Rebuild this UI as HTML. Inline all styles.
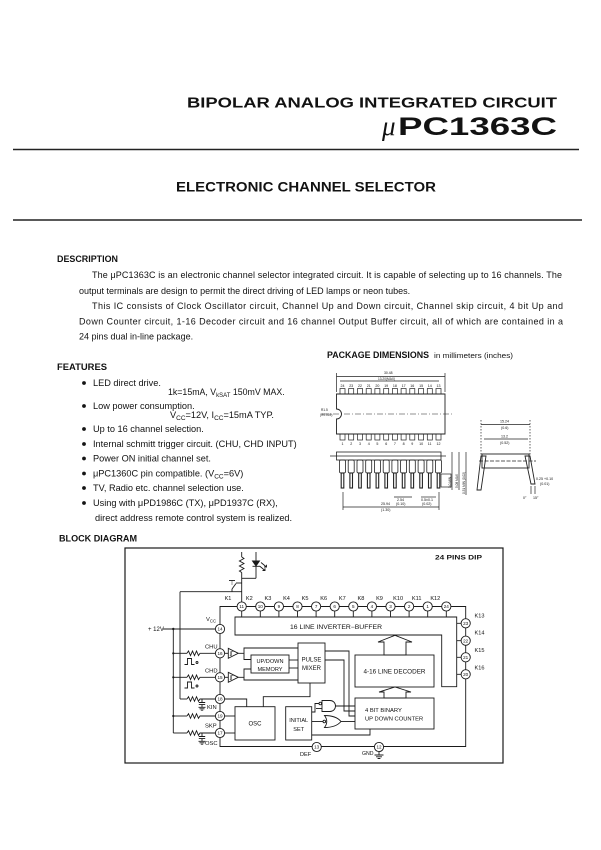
<!DOCTYPE html>
<html><head><meta charset="utf-8">
<style>
html,body{margin:0;padding:0;background:#fff;}
svg{display:block;}
text{font-family:"Liberation Sans",Arial,sans-serif;fill:#121212;}
.s{font-family:"Liberation Serif",serif;font-style:italic;}
</style></head><body>
<svg width="601" height="850" viewBox="0 0 601 850" xmlns="http://www.w3.org/2000/svg">
<rect width="601" height="850" fill="#fff"/>

<!-- HEADER -->
<text x="187" y="107.5" font-size="15" font-weight="bold" textLength="370" lengthAdjust="spacingAndGlyphs">BIPOLAR ANALOG INTEGRATED CIRCUIT</text>
<text x="382" y="135" font-size="27" class="s">μ</text>
<text x="398" y="135" font-size="25" font-weight="bold" textLength="159" lengthAdjust="spacingAndGlyphs">PC1363C</text>
<line x1="13" y1="149.5" x2="579" y2="149.5" stroke="#222" stroke-width="1.4"/>
<text x="176" y="191.5" font-size="13.5" font-weight="bold" textLength="260" lengthAdjust="spacingAndGlyphs">ELECTRONIC CHANNEL SELECTOR</text>
<line x1="13" y1="220" x2="582" y2="220" stroke="#222" stroke-width="1.4"/>

<!-- DESCRIPTION -->
<text x="57" y="262" font-size="9" font-weight="bold" textLength="61" lengthAdjust="spacingAndGlyphs">DESCRIPTION</text>
<g font-size="9">
<text x="92" y="278" textLength="470" lengthAdjust="spacing">The μPC1363C is an electronic channel selector integrated circuit. It is capable of selecting up to 16 channels. The</text>
<text x="79" y="294">output terminals are design to permit the direct driving of LED lamps or neon tubes.</text>
<text x="92" y="309" textLength="471" lengthAdjust="spacing">This IC consists of Clock Oscillator circuit, Channel Up and Down circuit, Channel skip circuit, 4 bit Up and</text>
<text x="79" y="324.5" textLength="484" lengthAdjust="spacing">Down Counter circuit, 1-16 Decoder circuit and 16 channel Output Buffer circuit, all of which are contained in a</text>
<text x="79" y="339.5">24 pins dual in-line package.</text>
</g>

<!-- FEATURES -->
<text x="57" y="370" font-size="9.2" font-weight="bold" textLength="50" lengthAdjust="spacingAndGlyphs">FEATURES</text>
<g fill="#151515">
<circle cx="84" cy="383" r="1.9"/>
<circle cx="84" cy="406" r="1.9"/>
<circle cx="84" cy="429" r="1.9"/>
<circle cx="84" cy="444" r="1.9"/>
<circle cx="84" cy="458.5" r="1.9"/>
<circle cx="84" cy="473.5" r="1.9"/>
<circle cx="84" cy="488" r="1.9"/>
<circle cx="84" cy="503" r="1.9"/>
</g>
<g font-size="9.2">
<text x="93" y="386">LED direct drive.</text>
<text x="168" y="395" font-size="8.8">1k=15mA, V<tspan font-size="6" dy="2">kSAT</tspan><tspan dy="-2"> 150mV MAX.</tspan></text>
<text x="93" y="409">Low power consumption.</text>
<text x="170" y="418">V<tspan font-size="6.5" dy="2">CC</tspan><tspan dy="-2">=12V, I</tspan><tspan font-size="6.5" dy="2">CC</tspan><tspan dy="-2">=15mA TYP.</tspan></text>
<text x="93" y="432">Up to 16 channel selection.</text>
<text x="93" y="447">Internal schmitt trigger circuit. (CHU, CHD INPUT)</text>
<text x="93" y="461.5">Power ON initial channel set.</text>
<text x="93" y="476.5">μPC1360C pin compatible. (V<tspan font-size="6.5" dy="2">CC</tspan><tspan dy="-2">=6V)</tspan></text>
<text x="93" y="491">TV, Radio etc. channel selection use.</text>
<text x="93" y="506">Using with μPD1986C (TX), μPD1937C (RX),</text>
<text x="95" y="521">direct address remote control system is realized.</text>
</g>
<text x="59" y="541.5" font-size="9.2" font-weight="bold" textLength="78" lengthAdjust="spacingAndGlyphs">BLOCK DIAGRAM</text>

<!-- PACKAGE DIMENSIONS -->
<text x="327" y="358" font-size="8.8" font-weight="bold" textLength="102" lengthAdjust="spacingAndGlyphs">PACKAGE DIMENSIONS</text>
<text x="434" y="358" font-size="7.5" textLength="79" lengthAdjust="spacingAndGlyphs">in millimeters (inches)</text>

<g stroke="#222" stroke-width="0.7" fill="none">
  <line x1="336.5" y1="376.5" x2="445" y2="376.5"/>
  <line x1="336.5" y1="373" x2="336.5" y2="392"/>
  <line x1="445" y1="373" x2="445" y2="392"/>
  <line x1="340" y1="381" x2="439" y2="381"/>
  <path d="M336.5,394 H445 V434 H336.5 V419 A5,5 0 0 0 336.5,409 Z" stroke-width="0.9"/>
  <line x1="322" y1="414" x2="452" y2="414" stroke-dasharray="6,2,1,2" stroke-width="0.5"/>
  <g stroke-width="0.7">
  <rect x="340" y="388.5" width="5" height="5.5"/><rect x="348.7" y="388.5" width="5" height="5.5"/>
  <rect x="357.5" y="388.5" width="5" height="5.5"/><rect x="366.2" y="388.5" width="5" height="5.5"/>
  <rect x="374.9" y="388.5" width="5" height="5.5"/><rect x="383.7" y="388.5" width="5" height="5.5"/>
  <rect x="392.4" y="388.5" width="5" height="5.5"/><rect x="401.1" y="388.5" width="5" height="5.5"/>
  <rect x="409.8" y="388.5" width="5" height="5.5"/><rect x="418.6" y="388.5" width="5" height="5.5"/>
  <rect x="427.3" y="388.5" width="5" height="5.5"/><rect x="436" y="388.5" width="5" height="5.5"/>
  <rect x="340" y="434" width="5" height="6"/><rect x="348.7" y="434" width="5" height="6"/>
  <rect x="357.5" y="434" width="5" height="6"/><rect x="366.2" y="434" width="5" height="6"/>
  <rect x="374.9" y="434" width="5" height="6"/><rect x="383.7" y="434" width="5" height="6"/>
  <rect x="392.4" y="434" width="5" height="6"/><rect x="401.1" y="434" width="5" height="6"/>
  <rect x="409.8" y="434" width="5" height="6"/><rect x="418.6" y="434" width="5" height="6"/>
  <rect x="427.3" y="434" width="5" height="6"/><rect x="436" y="434" width="5" height="6"/>
  </g>
  <line x1="330" y1="456" x2="446" y2="456" stroke-width="0.8"/>
  <rect x="336.5" y="452" width="104.5" height="8" stroke-width="0.8"/>
  <g stroke-width="0.8">
  <rect x="339.5" y="460" width="6" height="13" rx="1.5"/><rect x="348.2" y="460" width="6" height="13" rx="1.5"/>
  <rect x="357" y="460" width="6" height="13" rx="1.5"/><rect x="365.7" y="460" width="6" height="13" rx="1.5"/>
  <rect x="374.4" y="460" width="6" height="13" rx="1.5"/><rect x="383.2" y="460" width="6" height="13" rx="1.5"/>
  <rect x="391.9" y="460" width="6" height="13" rx="1.5"/><rect x="400.6" y="460" width="6" height="13" rx="1.5"/>
  <rect x="409.3" y="460" width="6" height="13" rx="1.5"/><rect x="418.1" y="460" width="6" height="13" rx="1.5"/>
  <rect x="426.8" y="460" width="6" height="13" rx="1.5"/><rect x="435.5" y="460" width="6" height="13" rx="1.5"/>
  </g>
  <g stroke-width="1.1">
  <rect x="341.2" y="473" width="2.6" height="15"/><rect x="349.9" y="473" width="2.6" height="15"/>
  <rect x="358.7" y="473" width="2.6" height="15"/><rect x="367.4" y="473" width="2.6" height="15"/>
  <rect x="376.1" y="473" width="2.6" height="15"/><rect x="384.9" y="473" width="2.6" height="15"/>
  <rect x="393.6" y="473" width="2.6" height="15"/><rect x="402.3" y="473" width="2.6" height="15"/>
  <rect x="411" y="473" width="2.6" height="15"/><rect x="419.8" y="473" width="2.6" height="15"/>
  <rect x="428.5" y="473" width="2.6" height="15"/><rect x="437.2" y="473" width="2.6" height="15"/>
  </g>
  <rect x="441" y="474" width="10" height="13"/>
  <line x1="452" y1="452" x2="452" y2="490"/>
  <line x1="459" y1="452" x2="459" y2="490"/>
  <line x1="466" y1="452" x2="466" y2="495"/>
  <line x1="343" y1="507" x2="439" y2="507"/>
  <line x1="343" y1="492" x2="343" y2="510"/>
  <line x1="439" y1="492" x2="439" y2="510"/>
  <line x1="394" y1="497" x2="412" y2="497"/>
  <line x1="421" y1="497" x2="436" y2="497"/>
  <line x1="481" y1="424.5" x2="530" y2="424.5"/>
  <line x1="484" y1="439" x2="528" y2="439"/>
  <line x1="481" y1="420" x2="481" y2="455" stroke-dasharray="1.5,1.5"/>
  <line x1="530" y1="420" x2="530" y2="455" stroke-dasharray="1.5,1.5"/>
  <rect x="482" y="454" width="47" height="14" stroke-width="0.9"/>
  <line x1="479" y1="461" x2="536" y2="461" stroke-dasharray="4,1.5"/>
  <polygon points="481,456 486,456 481,490 477,490" stroke-width="0.9"/>
  <polygon points="525,456 530,456 535,484 531,484" stroke-width="0.9"/>
  <line x1="531" y1="486" x2="531" y2="494"/>
  <line x1="535" y1="486" x2="535" y2="494"/>
</g>
<g font-size="3.6" fill="#333">
  <text x="384" y="374" font-size="3.4">30.48</text>
  <text x="378" y="380" font-size="3.2">13.20(MAX)</text>
  <text x="340.5" y="387">24</text><text x="349.2" y="387">23</text><text x="358" y="387">22</text><text x="366.7" y="387">21</text>
  <text x="375.4" y="387">20</text><text x="384.2" y="387">19</text><text x="392.9" y="387">18</text><text x="401.6" y="387">17</text>
  <text x="410.3" y="387">16</text><text x="419.1" y="387">15</text><text x="427.8" y="387">14</text><text x="436.5" y="387">13</text>
  <text x="341.5" y="445">1</text><text x="350.2" y="445">2</text><text x="359" y="445">3</text><text x="367.7" y="445">4</text>
  <text x="376.4" y="445">5</text><text x="385.2" y="445">6</text><text x="393.9" y="445">7</text><text x="402.6" y="445">8</text>
  <text x="411.3" y="445">9</text><text x="419.1" y="445">10</text><text x="427.8" y="445">11</text><text x="436.5" y="445">12</text>
  <text x="321" y="411" font-size="3.2">R1.5</text>
  <text x="320" y="416" font-size="3.2">(R0.059)</text>
  <text x="381" y="505">25.94</text>
  <text x="381" y="511">(1.30)</text>
  <text x="397" y="501">2.54</text>
  <text x="396" y="505">(0.10)</text>
  <text x="421" y="501">0.5±0.1</text>
  <text x="422" y="505">(0.02)</text>
  <text x="500" y="422.5">15.24</text>
  <text x="501" y="429">(0.6)</text>
  <text x="501" y="437.5">13.2</text>
  <text x="500" y="444">(0.52)</text>
  <text x="536" y="480">0.25 +0.10</text>
  <text x="540" y="485">(0.01)</text>
  <text x="523" y="499">0°</text>
  <text x="533" y="499">15°</text>
  <text transform="translate(451,488) rotate(-90)" font-size="3.2">3.0 MIN</text>
  <text transform="translate(458,488) rotate(-90)" font-size="3.2">5.08 MAX</text>
  <text transform="translate(465,494) rotate(-90)" font-size="3.2">0.51 MIN (0.02)</text>
</g>

<!-- BLOCK DIAGRAM -->
<g stroke="#1a1a1a" stroke-width="0.9" fill="none">
  <rect x="125" y="548" width="378" height="215" stroke-width="1.2"/>
  <line x1="241.7" y1="552" x2="241.7" y2="557"/>
  <polyline points="241.7,557 244,558.5 239.4,561 244,563.5 239.4,566 244,568.5 239.4,571 241.7,572.5"/>
  <line x1="241.7" y1="572.5" x2="241.7" y2="602"/>
  <line x1="256" y1="552" x2="256" y2="578.3"/>
  <polygon points="252.5,561 259.5,561 256,566" fill="#1a1a1a"/>
  <line x1="252.5" y1="566.3" x2="259.5" y2="566.3"/>
  <line x1="259.5" y1="566" x2="265" y2="570.5"/>
  <polyline points="262.5,570.5 265,570.5 265,568.3"/>
  <line x1="261" y1="562.5" x2="266.5" y2="567"/>
  <polyline points="264,567 266.5,567 266.5,564.8"/>
  <line x1="241.7" y1="578.3" x2="256" y2="578.3"/>
  <line x1="180" y1="591.7" x2="241.7" y2="591.7"/>
  <line x1="232" y1="591.7" x2="232" y2="589"/>
  <line x1="232" y1="589" x2="236" y2="583.5"/>
  <line x1="236" y1="583" x2="241.7" y2="583"/>
  <line x1="229" y1="580.5" x2="235" y2="580.5"/>
  <line x1="232" y1="580.5" x2="232" y2="585" stroke-dasharray="1,1"/>
  <polyline points="220,629 220,606.5 465.7,606.5 465.7,746.5 220,746.5 220,629"/>
  <path d="M241.7,611 V617 M260.3,611 V617 M278.9,611 V617 M297.5,611 V617 M316.1,611 V617 M334.7,611 V617 M353.3,611 V617 M371.9,611 V617 M390.5,611 V617 M409.1,611 V617 M427.7,611 V617 M446.3,611 V617"/>
  <path d="M456.7,623.3 H461 M456.7,640.7 H461 M456.7,657.3 H461 M456.7,674.3 H461"/>
  <polygon points="235,617 456.7,617 456.7,686.7 441.7,686.7 441.7,635 235,635" fill="#fff"/>
  <line x1="163" y1="629" x2="215" y2="629"/>
  <line x1="173.3" y1="629" x2="173.3" y2="733"/>
  <line x1="180" y1="591.7" x2="180" y2="699"/>
  <line x1="173.3" y1="653.3" x2="187" y2="653.3"/>
  <polyline points="187,653.3 188.5,651 190.5,655.6 192.5,651 194.5,655.6 196.5,651 198.5,655.6 200,653.3 215.4,653.3"/>
  <line x1="173.3" y1="677.3" x2="187" y2="677.3"/>
  <polyline points="187,677.3 188.5,675 190.5,679.6 192.5,675 194.5,679.6 196.5,675 198.5,679.6 200,677.3 215.4,677.3"/>
  <line x1="180" y1="699" x2="187" y2="699"/>
  <polyline points="187,699 188.5,696.7 190.5,701.3 192.5,696.7 194.5,701.3 196.5,696.7 198.5,701.3 200,699 215.4,699"/>
  <line x1="173.3" y1="716" x2="187" y2="716"/>
  <polyline points="187,716 188.5,713.7 190.5,718.3 192.5,713.7 194.5,718.3 196.5,713.7 198.5,718.3 200,716 215.4,716"/>
  <line x1="173.3" y1="733" x2="187" y2="733"/>
  <polyline points="187,733 188.5,730.7 190.5,735.3 192.5,730.7 194.5,735.3 196.5,730.7 198.5,735.3 200,733 215.4,733"/>
  <path d="M202,699 V702.5 M198.8,702.5 H205.2 M198.8,704.6 H205.2 M202,704.6 V707.3 M198.5,707.3 H205.5 M199.5,708.8 H204.5 M200.8,710.2 H203.2"/>
  <path d="M202,733 V736.5 M198.8,736.5 H205.2 M198.8,738.6 H205.2 M202,738.6 V741.3 M198.5,741.3 H205.5 M199.5,742.8 H204.5 M200.8,744.2 H203.2"/>
  <polyline points="184.5,664.5 187.5,664.5 187.5,658.5 191.5,658.5 191.5,664.5 194.5,664.5"/>
  <circle cx="197" cy="662.5" r="1"/>
  <polyline points="184.5,688 187.5,688 187.5,682 191.5,682 191.5,688 194.5,688"/>
  <circle cx="197" cy="686" r="1"/>
  <line x1="224.6" y1="653.3" x2="228.3" y2="653.3"/>
  <line x1="224.6" y1="677.3" x2="228.3" y2="677.3"/>
  <polygon points="228.3,648.3 228.3,658.3 238.3,653.3"/>
  <polygon points="228.3,672.3 228.3,682.3 238.3,677.3"/>
  <path d="M229.8,655.5 H231.5 V651.3 H233.8 M230.8,655.5 V651.3" stroke-width="0.5"/>
  <path d="M229.8,679.5 H231.5 V675.3 H233.8 M230.8,679.5 V675.3" stroke-width="0.5"/>
  <polyline points="238.3,653.3 244,653.3 244,659.5 251,659.5"/>
  <polyline points="238.3,677.3 244,677.3 244,669 251,669"/>
  <polyline points="244,653.3 244,648 298,648"/>
  <polyline points="244,677.3 244,680 298,680"/>
  <rect x="251" y="655" width="38" height="18"/>
  <line x1="289" y1="660" x2="298" y2="660"/>
  <line x1="289" y1="668" x2="298" y2="668"/>
  <rect x="298" y="643" width="27" height="40"/>
  <polyline points="325,651 349,651 349,716 355,716"/>
  <polyline points="325,660 344,660 344,711 355,711"/>
  <rect x="355" y="655" width="79" height="32"/>
  <rect x="355" y="698" width="79" height="31"/>
  <polygon points="384,655 384,642 378,642 395,635.3 412,642 406,642 406,655" fill="#fff"/>
  <polygon points="384,698 384,692 379,692 395,687 411,692 406,692 406,698" fill="#fff"/>
  <rect x="235" y="706.7" width="40" height="33.3"/>
  <rect x="285.7" y="706.7" width="26" height="33.3"/>
  <polyline points="224.6,699 246.7,699 246.7,706.7"/>
  <line x1="224.6" y1="716" x2="235" y2="716"/>
  <line x1="224.6" y1="733" x2="235" y2="733"/>
  <polyline points="263.3,706.7 263.3,696.7 310,696.7 310,683"/>
  <path d="M322,700.5 H330 A5.5,5.5 0 0 1 330,711.5 H322 Z"/>
  <circle cx="320.3" cy="703.5" r="1.3"/>
  <path d="M324.5,715.5 Q329,721.5 324.5,727.5 Q336,727.5 341,721.5 Q336,715.5 324.5,715.5 Z"/>
  <circle cx="324.3" cy="721.5" r="1.3"/>
  <polyline points="311.7,712 315,712 315,703.5 319,703.5"/>
  <line x1="311.7" y1="721.5" x2="323" y2="721.5"/>
  <line x1="335.5" y1="706" x2="355" y2="706"/>
  <line x1="341" y1="721.5" x2="355" y2="721.5"/>
  <line x1="322" y1="708.5" x2="316" y2="708.5"/>
  <polyline points="370,729 370,735 311.7,735"/>
  <path d="M379,751.9 V755 M374.5,755 H383.5 M376,756.8 H382 M377.6,758.5 H380.4"/>
</g>
<g fill="#1a1a1a">
  <circle cx="173.3" cy="629" r="1.2"/>
  <circle cx="173.3" cy="653.3" r="1.1"/>
  <circle cx="173.3" cy="677.3" r="1.1"/>
  <circle cx="173.3" cy="716" r="1.1"/>
</g>

<g stroke="#1a1a1a" stroke-width="0.9" fill="#fff">
  <circle cx="241.7" cy="606.5" r="4.6"/><circle cx="260.3" cy="606.5" r="4.6"/>
  <circle cx="278.9" cy="606.5" r="4.6"/><circle cx="297.5" cy="606.5" r="4.6"/>
  <circle cx="316.1" cy="606.5" r="4.6"/><circle cx="334.7" cy="606.5" r="4.6"/>
  <circle cx="353.3" cy="606.5" r="4.6"/><circle cx="371.9" cy="606.5" r="4.6"/>
  <circle cx="390.5" cy="606.5" r="4.6"/><circle cx="409.1" cy="606.5" r="4.6"/>
  <circle cx="427.7" cy="606.5" r="4.6"/><circle cx="446.3" cy="606.5" r="4.6"/>
  <circle cx="465.7" cy="623.3" r="4.6"/><circle cx="465.7" cy="640.7" r="4.6"/>
  <circle cx="465.7" cy="657.3" r="4.6"/><circle cx="465.7" cy="674.3" r="4.6"/>
  <circle cx="220" cy="629" r="4.6"/><circle cx="220" cy="653.3" r="4.6"/>
  <circle cx="220" cy="677.3" r="4.6"/><circle cx="220" cy="699" r="4.6"/>
  <circle cx="220" cy="716" r="4.6"/><circle cx="220" cy="733" r="4.6"/>
  <circle cx="316.7" cy="747" r="4.6"/><circle cx="379" cy="747" r="4.6"/>
</g>
<g font-size="4.6" text-anchor="middle">
  <text x="241.7" y="608.2">11</text><text x="260.3" y="608.2">10</text>
  <text x="278.9" y="608.2">9</text><text x="297.5" y="608.2">8</text>
  <text x="316.1" y="608.2">7</text><text x="334.7" y="608.2">6</text>
  <text x="353.3" y="608.2">5</text><text x="371.9" y="608.2">4</text>
  <text x="390.5" y="608.2">3</text><text x="409.1" y="608.2">2</text>
  <text x="427.7" y="608.2">1</text><text x="446.3" y="608.2">24</text>
  <text x="465.7" y="625">23</text><text x="465.7" y="642.4">22</text>
  <text x="465.7" y="659">21</text><text x="465.7" y="676">20</text>
  <text x="220" y="630.7">14</text><text x="220" y="655">16</text>
  <text x="220" y="679">15</text><text x="220" y="700.7">18</text>
  <text x="220" y="717.7">19</text><text x="220" y="734.7">17</text>
  <text x="316.7" y="748.7">13</text><text x="379" y="748.7">12</text>
</g>

<g font-size="5.6" text-anchor="middle">
  <text x="228" y="600">K1</text><text x="249.3" y="600">K2</text>
  <text x="267.9" y="600">K3</text><text x="286.5" y="600">K4</text>
  <text x="305.1" y="600">K5</text><text x="323.7" y="600">K6</text>
  <text x="342.3" y="600">K7</text><text x="360.9" y="600">K8</text>
  <text x="379.5" y="600">K9</text><text x="398.1" y="600">K10</text>
  <text x="416.7" y="600">K11</text><text x="435.3" y="600">K12</text>
</g>
<g font-size="5.6">
  <text x="474.5" y="617.7">K13</text>
  <text x="474.5" y="634.7">K14</text>
  <text x="474.5" y="652">K15</text>
  <text x="474.5" y="669.3">K16</text>
</g>

<text x="435" y="559.5" font-size="6.5" font-weight="bold" textLength="47" lengthAdjust="spacingAndGlyphs">24 PINS DIP</text>
<text x="148" y="631" font-size="6">+ 12V</text>
<text x="206" y="621" font-size="5.8">V<tspan font-size="4.3" dy="1.3">CC</tspan></text>
<text x="205" y="648.5" font-size="5.8" text-decoration="overline">CHU</text>
<text x="205" y="672.5" font-size="5.8" text-decoration="overline">CHD</text>
<text x="207" y="709" font-size="5.8">KIN</text>
<text x="205" y="727.5" font-size="5.8" text-decoration="overline">SKP</text>
<text x="205" y="745" font-size="5.8">OSC</text>
<text x="300" y="756" font-size="5.6">DEF</text>
<text x="362" y="755" font-size="5.2">GND</text>
<text x="290" y="629" font-size="6" textLength="92" lengthAdjust="spacingAndGlyphs">16 LINE INVERTER−BUFFER</text>
<text x="270" y="663" font-size="5.6" text-anchor="middle">UP/DOWN</text>
<text x="270" y="671" font-size="5.6" text-anchor="middle">MEMORY</text>
<text x="311.5" y="661.5" font-size="6" text-anchor="middle">PULSE</text>
<text x="311.5" y="670" font-size="6" text-anchor="middle">MIXER</text>
<text x="394.5" y="673.5" font-size="6" text-anchor="middle" textLength="62" lengthAdjust="spacingAndGlyphs">4-16 LINE DECODER</text>
<text x="365" y="712" font-size="5.8">4 BIT BINARY</text>
<text x="365" y="720.5" font-size="5.8">UP DOWN COUNTER</text>
<text x="255" y="725.5" font-size="6" text-anchor="middle">OSC</text>
<text x="298.7" y="722" font-size="5.6" text-anchor="middle">INITIAL</text>
<text x="298.7" y="731" font-size="5.6" text-anchor="middle">SET</text>
</svg>
</body></html>
